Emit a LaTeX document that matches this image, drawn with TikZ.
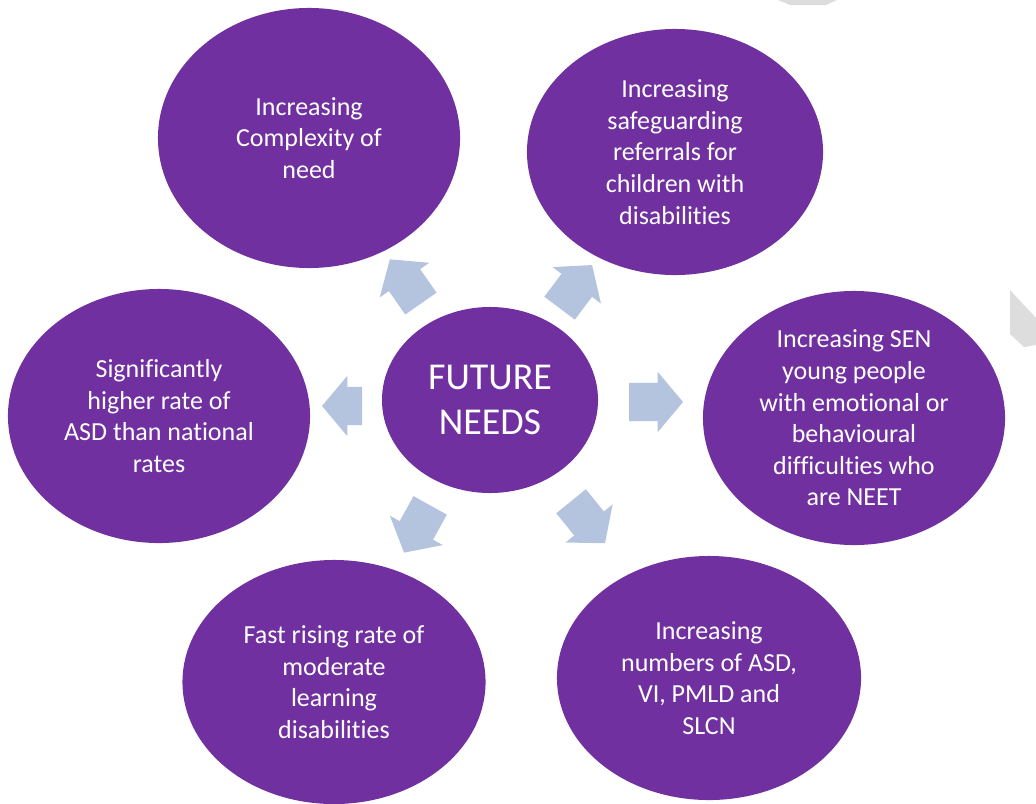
\documentclass[tikz,border=0pt]{standalone}
\usepackage{fontspec}
\setmainfont{Carlito}[Ligatures=NoCommon]
\usetikzlibrary{shapes.geometric,shapes.arrows}
\definecolor{needpurple}{HTML}{7030A0}
\definecolor{arrowblue}{HTML}{B4C4DE}
\definecolor{markgray}{HTML}{DDDDDD}
\tikzset{
  needbubble/.style={ellipse, fill=needpurple, inner sep=0pt, text=white, align=center,
    font=\fontsize{18.5}{22.5}\selectfont},
  hubbubble/.style={ellipse, fill=needpurple, inner sep=0pt, text=white, align=center,
    font=\fontsize{27}{32}\selectfont, minimum width=5.4cm, minimum height=4.65cm},
  outarrow/.style={single arrow, fill=arrowblue, inner xsep=0pt, inner ysep=0.47cm,
    minimum height=1.35cm, single arrow head extend=0.28cm, single arrow tip angle=100}
}
\begin{document}
\begin{tikzpicture}[x=0.025cm, y=-0.025cm]
\useasboundingbox (0,0) rectangle (1036,803);
\clip (0,0) rectangle (1036,803);
% faint page marks
\fill[markgray] (778,0) -- (837,0) -- (826,5) -- (790,5) -- cycle;
\fill[markgray] (1010,290) -- (1036,318) -- (1036,345) -- (1024,347) -- (1010,334) -- cycle;
% bubbles
\node[needbubble, minimum width=7.55cm, minimum height=6.5cm] (c1) at (309,138)
  {Increasing\\Complexity of\\need};
\node[needbubble, minimum width=7.4cm, minimum height=6.15cm] (c2) at (675,152)
  {Increasing\\safeguarding\\referrals for\\children with\\disabilities};
\node[needbubble, minimum width=7.55cm, minimum height=6.35cm] (c3) at (854,418)
  {Increasing SEN\\young people\\with emotional or\\behavioural\\difficulties who\\are NEET};
\node[needbubble, minimum width=7.6cm, minimum height=6.1cm] (c4) at (709,678)
  {Increasing\\numbers of ASD,\\VI, PMLD and\\SLCN};
\node[needbubble, minimum width=7.575cm, minimum height=6.1cm] (c5) at (334,682)
  {Fast rising rate of\\moderate\\learning\\disabilities};
\node[needbubble, minimum width=7.55cm, minimum height=6.35cm] (c6) at (159,416)
  {Significantly\\higher rate of\\ASD than national\\rates};
\node[hubbubble] (hub) at (490,400) {FUTURE\\NEEDS};
% arrows
\node[outarrow, rotate=125] (a1) at (410,288) {};
\node[outarrow, rotate=53] (a2) at (571,293) {};
\node[outarrow, rotate=0] (a3) at (648,402) {};
\node[outarrow, rotate=-119] (a5) at (421,522) {};
\node[outarrow, rotate=-51] (a4) at (583,516) {};
\node[outarrow, rotate=180, minimum height=1.0cm] (a6) at (350,406) {};
\end{tikzpicture}
\end{document}
